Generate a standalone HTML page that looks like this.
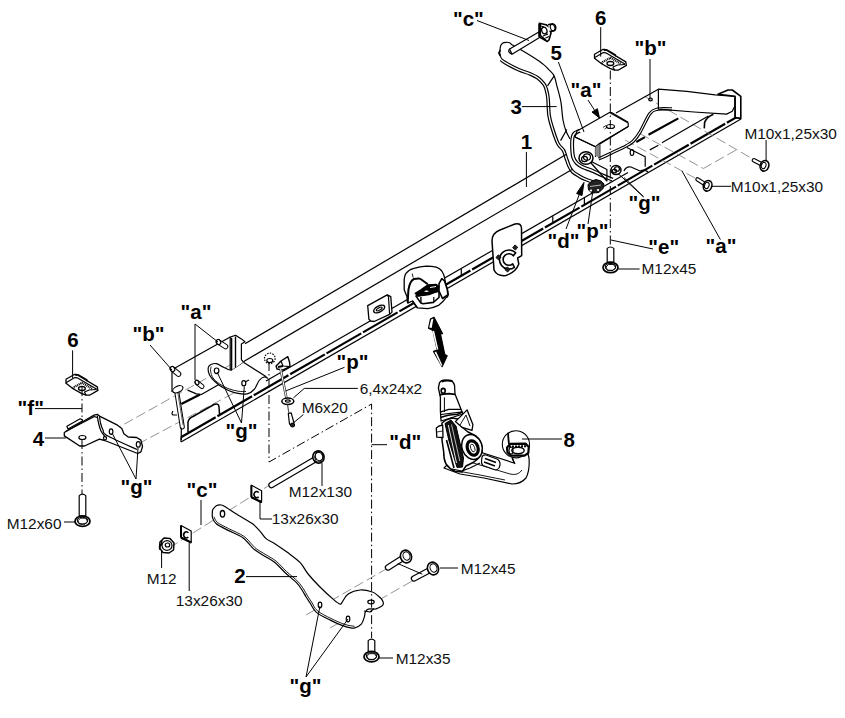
<!DOCTYPE html>
<html><head><meta charset="utf-8"><style>
html,body{margin:0;padding:0;background:#fff;}
svg{display:block;}
.b{font-family:"Liberation Sans",sans-serif;font-weight:bold;font-size:20.5px;fill:#000;}
.r{font-family:"Liberation Sans",sans-serif;font-size:15.4px;fill:#111;}
.l{stroke:#000;stroke-width:1;fill:none;}
.o{stroke:#000;stroke-width:1.2;fill:#fff;stroke-linejoin:round;}
.n{stroke:#000;stroke-width:1.2;fill:none;stroke-linejoin:round;}
.dd{stroke:#000;stroke-width:1;fill:none;stroke-dasharray:9 3 1.5 3;}
.ds{stroke:#777;stroke-width:0.8;fill:none;stroke-dasharray:10 4;}
</style></head><body>
<svg width="845" height="718" viewBox="0 0 845 718">
<line class="n" x1="245.0" y1="343.8" x2="566.0" y2="154.5" />
<line class="n" x1="243.8" y1="361.4" x2="572.0" y2="169.4" />
<line class="n" x1="266.0" y1="380.9" x2="628.0" y2="172.4" />
<line class="n" x1="181.0" y1="437.2" x2="741.0" y2="114.6"  style="stroke-width:2.2;stroke-dasharray:40 2"/>
<line class="n" x1="181.0" y1="442.1" x2="741.0" y2="119.0" />
<line class="n" x1="181.0" y1="437.2" x2="181.0" y2="442.1" />
<line class="n" x1="461.3" y1="268.9" x2="461.3" y2="275.7" />
<line class="n" x1="552.8" y1="216.2" x2="552.8" y2="223.0" />
<line class="n" x1="584.4" y1="198.0" x2="584.4" y2="204.8" />
<polyline class="ds" points="644.0,96.0 754.0,159.7" />
<polyline class="ds" points="736.0,150.0 703.4,168.5" />
<polyline class="ds" points="640.0,133.6 703.4,168.5" />
<polyline class="ds" points="625.0,140.0 697.5,179.4" />
<polygon class="o" points="658.4,89.2 686.8,91.4 715.2,94.9 735.1,96.3 735.1,105.6 732.3,111.3 726.6,114.1 694.0,112.0 658.4,109.1" />
<polygon class="o" points="718.0,94.2 728.0,90.0 732.3,90.0 740.8,96.3 740.8,118.4 735.1,117.6 735.1,96.3"  style="stroke-width:1.6"/>
<line class="n" x1="735.1" y1="98.0" x2="735.1" y2="117.6" />
<path class="n" d="M713.4,114.2 Q706.5,117 704.6,122.6 L704.3,128.4"  style="stroke-width:1.6"/>
<line class="n" x1="616.0" y1="113.0" x2="658.4" y2="89.2" />
<line class="n" x1="636.3" y1="142.0" x2="644.9" y2="137.1"  style="stroke-width:2.2"/>
<line class="n" x1="648.5" y1="134.7" x2="678.3" y2="118.4"  style="stroke-width:2.2"/>
<line class="n" x1="649.8" y1="149.9" x2="658.4" y2="145.3" />
<line class="n" x1="661.9" y1="142.8" x2="708.4" y2="115.9" />
<path class="n" d="M599.0,160.0 C601.2,159.0 607.4,156.2 612.0,154.0 C616.6,151.8 623.1,148.8 626.8,146.8 C630.5,144.8 631.6,144.4 634.0,142.0 C636.4,139.6 638.2,137.2 641.0,132.6 C643.8,127.9 648.1,117.8 650.9,114.1 C653.7,110.4 654.5,110.9 658.0,110.2 C661.5,109.5 669.7,110.0 672.0,110.0"  style="stroke-width:1.1"/>
<path class="n" d="M598.1,158.0 C600.2,157.0 606.4,154.2 611.1,152.0 C615.7,149.8 622.2,146.8 625.7,144.9 C629.3,142.9 630.2,142.7 632.4,140.4 C634.7,138.2 636.3,136.1 639.1,131.5 C641.9,126.8 646.1,116.7 649.1,112.8 C652.2,108.9 653.8,108.9 657.6,108.0 C661.4,107.2 669.6,107.8 672.0,107.8"  style="stroke-width:1.1"/>
<ellipse class="n" cx="650.5" cy="99.5" rx="1.8" ry="1.3" />
<polyline class="n" points="626.8,147.5 645.2,156.8 645.2,166.7" />
<ellipse class="n" cx="632.0" cy="152.5" rx="1.8" ry="3" />
<polygon class="o" points="500.5,46.0 499.8,53.0 501.5,58.5 506.5,62.0 519.0,68.5 530.0,72.5 538.4,76.7 545.0,83.4 547.5,89.2 549.2,97.6 550.3,115.0 553.4,127.3 559.0,142.9 564.5,149.6 567.3,157.4 570.1,165.2 573.4,170.7 580.1,175.2 586.8,178.5 597.0,182.0 570.0,139.0 566.0,131.0 563.0,120.0 560.9,101.8 556.7,85.1 554.2,75.9 549.6,70.4 543.7,64.6 534.0,57.8 521.3,50.0 512.5,45.1 509.6,42.7 506.0,42.3 502.5,43.2 500.5,46.0"  style="stroke:none"/>
<path class="n" d="M500.5,46.0 C500.4,47.2 499.6,50.9 499.8,53.0 C500.0,55.1 500.4,57.0 501.5,58.5 C502.6,60.0 503.6,60.3 506.5,62.0 C509.4,63.7 515.1,66.8 519.0,68.5 C522.9,70.2 526.8,71.1 530.0,72.5 C533.2,73.9 535.9,74.9 538.4,76.7 C540.9,78.5 543.5,81.3 545.0,83.4 C546.5,85.5 546.8,86.8 547.5,89.2 C548.2,91.6 548.7,93.3 549.2,97.6 C549.7,101.9 549.6,110.0 550.3,115.0 C551.0,120.0 551.9,122.6 553.4,127.3 C554.9,131.9 557.1,139.2 559.0,142.9 C560.9,146.6 563.1,147.2 564.5,149.6 C565.9,152.0 566.4,154.8 567.3,157.4 C568.2,160.0 569.1,163.0 570.1,165.2 C571.1,167.4 571.7,169.0 573.4,170.7 C575.1,172.4 577.9,173.9 580.1,175.2 C582.3,176.5 584.0,177.4 586.8,178.5 C589.6,179.6 595.3,181.4 597.0,182.0" />
<path class="n" d="M500.1,60.5 C500.9,61.2 502.3,62.5 505.3,64.2 C508.2,65.9 514.0,69.0 518.0,70.8 C521.9,72.6 525.9,73.5 529.0,74.8 C532.2,76.1 534.6,77.0 536.9,78.7 C539.3,80.4 541.6,83.0 543.0,84.9 C544.3,86.7 544.5,87.7 545.1,89.9 C545.7,92.1 546.3,93.6 546.7,97.9 C547.2,102.1 547.1,110.3 547.8,115.4 C548.5,120.4 549.5,123.3 551.0,128.0 C552.5,132.8 554.9,140.2 556.8,144.0 C558.6,147.8 561.0,148.5 562.3,150.8 C563.7,153.2 564.0,155.7 564.9,158.2 C565.9,160.8 566.7,163.9 567.8,166.2 C568.9,168.6 569.8,170.6 571.6,172.5 C573.5,174.3 576.5,176.0 578.8,177.4 C581.2,178.8 583.0,179.7 585.9,180.8 C588.8,182.0 594.5,183.8 596.2,184.4" />
<path class="n" d="M500.5,46.0 C500.8,45.5 501.6,43.8 502.5,43.2 C503.4,42.6 504.8,42.4 506.0,42.3 C507.2,42.2 508.5,42.2 509.6,42.7 C510.7,43.2 510.6,43.9 512.5,45.1 C514.5,46.3 517.7,47.9 521.3,50.0 C524.9,52.1 530.3,55.4 534.0,57.8 C537.7,60.2 541.1,62.5 543.7,64.6 C546.3,66.7 547.9,68.5 549.6,70.4 C551.4,72.3 553.0,73.5 554.2,75.9 C555.4,78.4 555.6,80.8 556.7,85.1 C557.8,89.4 559.9,96.0 560.9,101.8 C561.9,107.6 562.1,115.1 563.0,120.0 C563.9,124.9 564.8,127.8 566.0,131.0 C567.2,134.2 569.3,137.7 570.0,139.0" />
<line class="n" x1="554.2" y1="75.9" x2="547.5" y2="85.9" />
<line class="n" x1="566.8" y1="129.5" x2="560.6" y2="140.6" />
<path class="n" d="M500.3,50 l-1.5,3 l1.5,3"  style="stroke-width:1.6"/>
<polygon class="o" points="509.6,49.0 538.9,31.9 540.8,36.8 512.0,54.3" />
<path class="n" d="M509.6,49 Q507,52 512,54.3" />
<polygon class="o" points="539.3,23.3 546.0,24.8 549.5,27.0 551.0,33.0 549.0,40.0 547.3,41.5 539.2,36.8"  style="stroke-width:1.6"/>
<line class="n" x1="539.8" y1="24.0" x2="539.8" y2="36.5"  style="stroke-width:2.6"/>
<path class="o" d="M548,24.8 L552.5,23.8 Q556,24.5 555.8,28.5 Q555,31.5 551.5,31.2 L549.5,31.5"  style="stroke-width:1.4"/>
<ellipse class="n" cx="552.6" cy="27.6" rx="2.2" ry="3.2" transform="rotate(-20 552.6 27.6)"  style="stroke-width:1.1"/>
<ellipse class="n" cx="544.3" cy="30.5" rx="2.6" ry="3.4" transform="rotate(-20 544.3 30.5)"  style="stroke-width:1.3"/>
<path class="n" d="M541,26 L544,27 M540.5,35.5 L546,40 M543,36 L548,34 M545.5,38 L549,36.5"  style="stroke-width:1.3"/>
<polygon class="o" points="577.0,131.0 609.5,112.5 628.2,123.0 628.2,126.5 599.8,143.3 595.5,146.8 575.0,137.0" />
<polyline class="n" points="609.5,112.5 611.5,112.5 628.2,122.3" />
<polyline class="n" points="628.2,126.5 599.8,144.0 599.8,158.5" />
<polyline class="n" points="575.0,137.0 595.5,146.8 595.5,157.0" />
<polygon class="n" points="595.2,147.3 599.6,144.3 599.6,157.5 595.2,156.0"  style="fill:#888;stroke:none"/>
<polygon class="o" points="588.4,160.0 606.9,169.5 606.9,181.0" />
<path class="n" d="M579.0,129.5 C578.1,130.0 574.7,131.2 573.4,132.5 C572.1,133.8 571.7,135.0 571.2,137.3 C570.8,139.6 570.6,142.8 570.7,146.2 C570.8,149.5 571.0,154.4 571.8,157.4 C572.6,160.4 573.9,162.2 575.7,164.0 C577.5,165.8 579.8,167.2 582.4,168.5 C585.0,169.8 587.9,170.5 591.3,171.9 C594.7,173.3 599.1,175.5 602.6,177.0 C606.1,178.5 610.4,180.3 612.0,181.0" />
<path class="n" d="M580.3,132.0 C579.5,132.4 576.4,133.5 575.4,134.5 C574.3,135.5 574.3,135.9 573.9,137.8 C573.6,139.8 573.4,143.0 573.5,146.1 C573.6,149.3 573.8,154.0 574.5,156.6 C575.2,159.3 576.2,160.5 577.7,162.1 C579.3,163.6 581.2,164.8 583.7,166.0 C586.1,167.2 589.0,167.9 592.4,169.3 C595.7,170.7 600.3,172.9 603.7,174.4 C607.2,176.0 611.5,177.8 613.1,178.4" />
<ellipse class="n" cx="610.5" cy="126.5" rx="4" ry="2" />
<path class="n" d="M603,127.5 l3,-2 M604.5,129 l3,-2"  style="stroke-width:0.8"/>
<ellipse class="o" cx="586.0" cy="158.0" rx="7" ry="6.3"  style="stroke-width:1.5"/>
<ellipse class="n" cx="587.0" cy="157.0" rx="3.5" ry="3.15" />
<ellipse class="n" cx="584.5" cy="159.0" rx="2.94" ry="2.66" />
<ellipse class="o" cx="616.0" cy="170.0" rx="5" ry="4.5"  style="stroke-width:1.5"/>
<ellipse class="n" cx="617.0" cy="169.0" rx="2.5" ry="2.25" />
<ellipse class="n" cx="614.5" cy="171.0" rx="2.1" ry="1.9" />
<path class="n" d="M624,171 q2,-5 7,-4 l9,4 q5,-2 8,1" />
<polygon class="o" points="594.5,54.2 602.8,49.5 605.1,49.5 625.8,61.9 626.4,65.4 618.1,70.2 614.6,70.2 609.9,68.4 601.6,63.7 594.5,58.3"  style="stroke-width:1.3"/>
<polyline class="n" points="595.3,57.3 603.3,52.6 605.7,52.8 625.3,64.3" />
<polyline class="n" points="594.5,58.3 595.3,57.3" />
<polyline class="n" points="601.6,63.7 602.5,62.1 610.5,57.8 620.5,63.7"  style="stroke-width:2.2;stroke-dasharray:1 0.8"/>
<polyline class="n" points="604.0,50.7 606.5,49.5 615.5,54.7 615.5,56.5" />
<ellipse class="n" cx="610.4" cy="63.5" rx="3.4" ry="2"  style="stroke-width:1.3"/>
<polyline class="n" points="614.6,70.2 613.0,67.0 617.5,65.0 625.0,64.5" />
<g>
<path class="o" d="M607.2,263.3 L607.2,248.4 Q610.5,245.6 613.8,248.4 L613.8,263.3" />
<ellipse class="o" cx="610.5" cy="267.5" rx="7.5" ry="5.2"  style="stroke-width:1.7"/>
<ellipse class="n" cx="610.5" cy="266.9" rx="5.2" ry="3.4"  style="stroke-width:1.1"/>
<path class="n" d="M606.0,267.0 L608.5,264.5 L613.5,264.5 L615.5,267.5 L613.0,270.5 L607.5,270.5Z"  style="stroke-width:0.9"/>
<line class="n" x1="607.2" y1="262.3" x2="613.8" y2="262.3"  style="stroke-width:1.6"/>
</g>
<line x1="753.9" y1="160.2" x2="764.5" y2="165.8" style="stroke:#000;stroke-width:4.4;stroke-linecap:round"/>
<line x1="753.9" y1="160.2" x2="764.5" y2="165.8" style="stroke:#fff;stroke-width:2.2;stroke-linecap:round"/>
<ellipse class="o" cx="764.5" cy="165.8" rx="4.2" ry="5.4" transform="rotate(20 764.5 165.8)"  style="stroke-width:1.6"/>
<ellipse class="n" cx="763.7" cy="165.5" rx="2.2" ry="3.2" transform="rotate(20 763.7 165.5)"  style="stroke-width:1"/>
<line x1="697.5" y1="179.4" x2="707.6" y2="185.8" style="stroke:#000;stroke-width:4.4;stroke-linecap:round"/>
<line x1="697.5" y1="179.4" x2="707.6" y2="185.8" style="stroke:#fff;stroke-width:2.2;stroke-linecap:round"/>
<ellipse class="o" cx="707.6" cy="185.8" rx="4.2" ry="5.4" transform="rotate(20 707.6 185.8)"  style="stroke-width:1.6"/>
<ellipse class="n" cx="706.8" cy="185.5" rx="2.2" ry="3.2" transform="rotate(20 706.8000000000001 185.5)"  style="stroke-width:1"/>
<polygon class="l" points="588.0,184.5 592.0,181.0 596.0,179.5 601.0,181.0 604.0,184.0 603.0,188.5 599.0,192.5 592.0,193.0 588.5,190.0"  style="fill:#222;stroke:#000;stroke-width:1"/>
<ellipse class="l" cx="591.0" cy="190.5" rx="1.3" ry="1.1"  style="fill:#fff;stroke:none"/>
<ellipse class="l" cx="598.0" cy="190.0" rx="1.2" ry="1"  style="fill:#fff;stroke:none"/>
<path class="n" d="M590,186.5 L601,185"  style="stroke:#ddd;stroke-width:0.8"/>
<path class="o" d="M492,241 Q492,233 500,230 L515,224 Q521,222.5 521.5,228 L521.7,255.6 L517.6,258 L518.8,264 Q516,272 506,275.5 Q497,276.5 494,270 Z"  style="stroke-width:1.5"/>
<path class="o" d="M515.7,252.8 A9.5,9.5 0 1 0 514.4,267.3 L512.7,263.9 A5.8,5.8 0 1 1 513.4,255.8 Z"  style="stroke-width:1.6"/>
<rect x="513.4" y="245.7" width="3.6" height="3.6" transform="rotate(40 515.2 247.5)" style="fill:#222;stroke:#000;stroke-width:0.8"/>
<rect x="496.7" y="255.6" width="3.6" height="3.6" transform="rotate(40 498.5 257.4)" style="fill:#222;stroke:#000;stroke-width:0.8"/>
<rect x="505.7" y="267.7" width="3.6" height="3.6" transform="rotate(40 507.5 269.5)" style="fill:#222;stroke:#000;stroke-width:0.8"/>
<polyline class="ds" points="112.0,431.0 232.0,364.0" />
<polyline class="ds" points="138.0,444.0 262.0,378.0" />
<line class="n" x1="175.0" y1="368.0" x2="230.2" y2="337.1" />
<line class="n" x1="172.0" y1="370.7" x2="172.0" y2="392.0" />
<polygon class="o" points="230.2,337.1 235.5,335.3 236.7,335.9 241.4,338.9 245.0,341.8 241.4,344.0 241.4,359.6 243.8,362.5 236.0,368.0 232.0,370.2 230.2,369.0" />
<line class="n" x1="231.6" y1="338.0" x2="231.6" y2="369.5"  style="stroke-width:1.4"/>
<line class="n" x1="235.5" y1="336.5" x2="235.5" y2="367.9"  style="stroke-width:1.4"/>
<path class="n" d="M188,432 L188,422 Q189,418 193,416.5 L214,404.5 Q219,403 219,407 L219.5,414"  style="stroke-width:1.5"/>
<line class="n" x1="181.3" y1="403.9" x2="200.0" y2="394.5"  style="stroke-width:2.2"/>
<polyline class="n" points="187.6,390.1 196.4,393.9 201.4,394.5 220.2,383.8" />
<polygon class="o" points="243.8,362.5 266.3,376.7 268.0,378.5 264.0,377.0 259.2,380.5 254.4,389.2 247.3,393.9 234.3,392.7 223.7,388.0 215.4,382.0 209.5,375.0 208.3,367.5 211.5,364.3 216.6,363.7 223.7,367.3 229.0,369.8 232.0,370.2"  style="stroke:none"/>
<path class="n" d="M268.0,378.5 C267.3,378.2 265.5,376.7 264.0,377.0 C262.5,377.3 260.8,378.5 259.2,380.5 C257.6,382.5 256.4,387.0 254.4,389.2 C252.4,391.4 250.7,393.3 247.3,393.9 C244.0,394.5 238.2,393.7 234.3,392.7 C230.4,391.7 226.8,389.8 223.7,388.0 C220.5,386.2 217.8,384.2 215.4,382.0 C213.0,379.8 210.7,377.4 209.5,375.0 C208.3,372.6 208.0,369.3 208.3,367.5 C208.6,365.7 210.1,364.9 211.5,364.3 C212.9,363.7 214.6,363.2 216.6,363.7 C218.6,364.2 221.6,366.3 223.7,367.3 C225.8,368.3 227.6,369.3 229.0,369.8 C230.4,370.3 231.5,370.1 232.0,370.2" />
<line class="n" x1="243.8" y1="362.5" x2="266.3" y2="376.7" />
<path class="n" d="M211.2,366.5 C211.1,367.2 210.3,369.1 210.6,371.0 C210.9,372.9 211.5,375.9 213.0,378.0 C214.5,380.1 217.0,382.1 219.5,383.8 C222.0,385.6 224.9,387.3 228.0,388.5 C231.1,389.7 235.0,390.7 238.0,391.2 C241.0,391.7 244.7,391.4 246.0,391.5"  style="stroke-width:0.9"/>
<ellipse class="n" cx="216.6" cy="370.8" rx="2.3" ry="2.8" />
<ellipse class="n" cx="243.8" cy="383.3" rx="2" ry="2.6" />
<path class="n" d="M245,382 l4,-2" />
<line x1="218.5" y1="342" x2="225.5" y2="346.5" style="stroke:#000;stroke-width:5.6;stroke-linecap:round"/>
<line x1="218.5" y1="342" x2="225.5" y2="346.5" style="stroke:#fff;stroke-width:3.6;stroke-linecap:round"/>
<ellipse class="o" cx="218.5" cy="342.0" rx="2.1" ry="2.6" transform="rotate(-30 218.5 342)" />
<line x1="172.5" y1="369" x2="178.5" y2="374" style="stroke:#000;stroke-width:5.6;stroke-linecap:round"/>
<line x1="172.5" y1="369" x2="178.5" y2="374" style="stroke:#fff;stroke-width:3.6;stroke-linecap:round"/>
<ellipse class="o" cx="172.5" cy="369.0" rx="2.1" ry="2.6" transform="rotate(-30 172.5 369)" />
<line x1="197" y1="382.5" x2="202" y2="386.5" style="stroke:#000;stroke-width:5;stroke-linecap:round"/>
<line x1="197" y1="382.5" x2="202" y2="386.5" style="stroke:#fff;stroke-width:3;stroke-linecap:round"/>
<ellipse class="o" cx="197.0" cy="382.5" rx="1.8" ry="2.3" transform="rotate(-30 197 382.5)" />
<line x1="176.5" y1="390" x2="182.3" y2="427" style="stroke:#000;stroke-width:5;stroke-linecap:round"/>
<line x1="176.5" y1="390" x2="182.3" y2="427" style="stroke:#fff;stroke-width:3;stroke-linecap:round"/>
<line class="n" x1="177.5" y1="391.0" x2="183.0" y2="425.0"  style="stroke-width:0.6"/>
<ellipse class="o" cx="177.8" cy="389.3" rx="5.5" ry="3" transform="rotate(-25 177.8 389.3)" />
<path class="n" d="M173,411 q-2,3 0,4 l4,0" />
<line class="n" x1="181.3" y1="427.7" x2="181.3" y2="440.0" />
<ellipse class="n" cx="269.8" cy="358.4" rx="5.3" ry="5.3"  style="stroke-dasharray:1.5 1.2"/>
<ellipse class="n" cx="269.8" cy="360.5" rx="3" ry="2" />
<polygon class="o" points="276.1,366.0 281.0,361.0 287.8,356.7 289.5,362.0 290.0,366.7 283.0,370.0 277.0,369.0"  style="stroke-width:1.4"/>
<polyline class="n" points="281.0,361.0 283.0,366.0 290.0,366.7" />
<path class="n" d="M278,367 l5,-1"  style="stroke-width:2"/>
<line x1="280.6" y1="369" x2="286.4" y2="398" style="stroke:#444;stroke-width:2.6"/>
<line x1="280.6" y1="369" x2="286.4" y2="398" style="stroke:#fff;stroke-width:1"/>
<ellipse class="o" cx="287.8" cy="401.3" rx="6" ry="3.2"  style="stroke-width:1.5"/>
<ellipse class="n" cx="287.8" cy="401.0" rx="2.4" ry="1.1" />
<line class="n" x1="287.5" y1="404.6" x2="289.0" y2="413.5"  style="stroke:#555"/>
<polygon class="o" points="288.3,413.5 291.2,412.8 294.0,423.0 291.5,425.5 289.5,424.0"  style="stroke-width:1.2"/>
<ellipse class="l" cx="292.5" cy="425.0" rx="2.2" ry="2.0"  style="fill:#222"/>
<polygon class="o" points="367.7,305.6 387.2,294.9 390.8,296.7 392.0,312.1 389.6,314.4 374.2,321.5 370.7,321.0 368.9,319.2"  style="stroke-width:1.3"/>
<polyline class="n" points="387.2,294.9 388.5,297.0 389.6,314.4" />
<ellipse class="n" cx="379.2" cy="309.0" rx="6" ry="3" transform="rotate(-28 379.2 309)"  style="stroke-width:1.5"/>
<ellipse class="n" cx="379.2" cy="309.0" rx="3.2" ry="1.2" transform="rotate(-28 379.2 309)" />
<path class="o" d="M404.2,289.8 L404.2,279.4 Q405,273.5 407,272.4 Q409,269.5 413.9,268.3 Q420,266.5 426.4,266.2 Q432,266.2 436.2,267.2 Q440,268.5 441.8,271 Q443.8,274 444.5,277.3 L445.5,283 L447.5,289.8 L448.2,294.5 Q447.5,298 446.6,296.8 Q443,302 439,305.1 Q433,308 427.8,308.6 L417.4,307.9 L412.5,301 L407.7,303.1 L407,296.8 Z"  style="stroke-width:1.3"/>
<path class="n" d="M407.7,302.4 L408.4,289.8 Q409.2,285 410.4,282.9 Q411.8,280 413.9,279 L418.8,278.4 Q421,279 423,280.8 L427.8,284.3"  style="stroke-width:2"/>
<polyline class="n" points="412.2,273.6 413.2,277.5"  style="stroke-width:0.9"/>
<polygon class="o" points="439.0,283.6 441.8,278.7 444.5,280.8 447.3,289.8 448.0,294.7 442.5,298.5 439.0,291.0"  style="stroke-width:1.6"/>
<polygon class="o" points="416.0,296.1 420.9,303.1 423.0,303.8 433.4,302.4 439.0,297.5 439.0,291.2"  style="stroke-width:1.6"/>
<line class="n" x1="433.8" y1="297.0" x2="433.8" y2="302.0" />
<line class="n" x1="420.9" y1="297.0" x2="420.9" y2="303.1"  style="stroke-width:1.4"/>
<polygon class="l" points="415.3,293.3 420.9,289.8 427.8,285.0 436.2,284.3 439.0,286.4 437.6,291.2 429.2,294.7 418.1,296.1"  style="fill:#000;stroke:#000;stroke-width:1.3"/>
<ellipse class="l" cx="426.5" cy="291.2" rx="2.2" ry="0.8"  style="fill:#fff;stroke:none"/>
<polyline class="n" points="430.0,287.5 436.0,286.5"  style="stroke:#fff;stroke-width:1"/>
<path class="n" d="M412.5,301 L417.4,307.9"  style="stroke-width:1.4"/>
<polygon class="o" points="64.3,432.5 94.1,415.1 97.3,414.3 100.5,416.7 117.5,425.2 121.8,428.4 123.9,433.8 128.2,437.0 136.7,437.5 140.9,440.1 142.5,446.5 140.9,451.9 137.7,453.5 104.7,440.5 99.4,439.1 84.5,446.0 79.7,446.0 64.3,435.9"  style="stroke-width:1.3"/>
<polygon class="o" points="66.9,426.3 80.2,418.8 82.4,419.9 82.4,421.0 68.0,429.0" />
<polyline class="n" points="65.5,431.5 94.5,416.5 97.0,417.5" />
<path class="n" d="M97.3,415.5 C97.5,416.8 97.9,420.4 98.5,423.0 C99.1,425.6 99.8,428.6 101.0,431.0 C102.2,433.4 104.8,436.4 105.5,437.5" />
<path class="n" d="M99.5,415.8 C99.7,417.0 99.9,420.6 100.5,423.0 C101.1,425.4 101.9,427.9 103.0,430.0 C104.1,432.1 101.3,432.2 107.0,435.5 C112.7,438.8 132.0,447.2 137.0,449.5" />
<ellipse class="n" cx="82.4" cy="437.5" rx="3.5" ry="2"  style="stroke-width:1.2"/>
<ellipse class="n" cx="111.1" cy="431.6" rx="1.8" ry="2.8"  style="stroke-width:1.2"/>
<ellipse class="n" cx="138.3" cy="444.4" rx="2" ry="2.8"  style="stroke-width:1.2"/>
<ellipse class="n" cx="105.0" cy="438.0" rx="1.5" ry="2" />
<polygon class="o" points="66.0,379.2 74.3,374.5 76.6,374.5 97.3,386.9 97.9,390.4 89.6,395.2 86.1,395.2 81.4,393.4 73.1,388.7 66.0,383.3"  style="stroke-width:1.3"/>
<polyline class="n" points="66.8,382.3 74.8,377.6 77.2,377.8 96.8,389.3" />
<polyline class="n" points="66.0,383.3 66.8,382.3" />
<polyline class="n" points="73.1,388.7 74.0,387.1 82.0,382.8 92.0,388.7"  style="stroke-width:2.2;stroke-dasharray:1 0.8"/>
<polyline class="n" points="75.5,375.7 78.0,374.5 87.0,379.7 87.0,381.5" />
<ellipse class="n" cx="81.9" cy="388.5" rx="3.4" ry="2"  style="stroke-width:1.3"/>
<polyline class="n" points="86.1,395.2 84.5,392.0 89.0,390.0 96.5,389.5" />
<g>
<path class="o" d="M79.2,517.0 L79.2,495.6 Q82.5,492.8 85.8,495.6 L85.8,517.0" />
<ellipse class="o" cx="82.5" cy="521.2" rx="7.5" ry="5.2"  style="stroke-width:1.7"/>
<ellipse class="n" cx="82.5" cy="520.6" rx="5.2" ry="3.4"  style="stroke-width:1.1"/>
<path class="n" d="M78.0,520.7 L80.5,518.2 L85.5,518.2 L87.5,521.2 L85.0,524.2 L79.5,524.2Z"  style="stroke-width:0.9"/>
<line class="n" x1="79.2" y1="516.0" x2="85.8" y2="516.0"  style="stroke-width:1.6"/>
</g>
<polygon class="l" points="434.0,317.2 442.6,333.7 440.4,333.6 444.8,354.5 447.2,355.7 442.2,366.6 433.5,351.4 437.2,350.0 433.0,330.5 428.5,328.3 430.5,319.0"  style="fill:#000;stroke-width:1.2;stroke-linejoin:round"/>
<polygon class="l" points="429.2,327.6 431.1,319.5 433.4,318.6 431.7,327.9"  style="fill:#fff;stroke:none"/>
<polygon class="l" points="432.6,331.2 434.1,330.8 438.3,349.3 436.9,349.8"  style="fill:#fff;stroke:none"/>
<polygon class="l" points="434.6,352.2 436.1,351.6 442.4,365.2 441.2,365.8"  style="fill:#fff;stroke:none"/>
<path class="o" d="M444,468 L460,474 L484,478 L512,484 Q521,484 526,478 Q530,470 529,458 L528,454 L512,456 L514,463 L480,452 L466,446 Z"  style="stroke-width:1.2"/>
<path class="n" d="M452,470 L480,475 L505,480"  style="stroke-width:0.9"/>
<path class="n" d="M470,462 Q490,468 510,474 Q518,476 522,470"  style="stroke-width:0.9"/>
<path class="n" d="M512,458 L515,464" />
<path class="o" d="M482,457 Q483,454.5 486,455 L497,459 Q500.5,461 500,465 L499,468 Q497,470.5 494,469.5 L483,465.5 Q481,464 481.5,461 Z"  style="stroke-width:1.2"/>
<path class="n" d="M485,458.5 L496,462.5 M484,462 L495,466"  style="stroke-width:1.4"/>
<ellipse class="o" cx="515.9" cy="444.3" rx="13.6" ry="13.6"  style="stroke-width:1.1"/>
<path class="n" d="M508,432.7 Q508.3,438 509,444.4"  style="stroke-width:1.8"/>
<polygon class="o" points="507.0,447.5 510.5,443.8 525.5,443.6 528.8,447.0 528.3,453.0 524.5,455.6 511.0,455.6 507.5,452.5"  style="stroke-width:2.2"/>
<path class="n" d="M509,446.5 L527,446.3"  style="stroke-width:2;stroke-dasharray:2 1"/>
<ellipse class="n" cx="518.0" cy="450.5" rx="6.2" ry="3.2"  style="stroke-width:1.4"/>
<ellipse class="n" cx="511.0" cy="450.5" rx="2" ry="3.5"  style="stroke-width:1.2"/>
<path class="o" d="M439.4,383 Q440.5,380.4 444,380.2 L450,380.3 Q453.4,381.3 454.5,385 L455,394 L461.5,410.5 L463,414 L441.1,421 L440.4,411.2 L440.4,397.4 L438.4,388 Z"  style="stroke-width:1.3"/>
<path class="n" d="M441.5,381.5 Q446,379.6 452.5,381"  style="stroke-width:2"/>
<path class="n" d="M439.6,394.8 L443.4,394.2 L449,393.6 L455,394.3"  style="stroke-width:1.8"/>
<path class="n" d="M441,411.8 L448.7,409.4 L461,409.4"  style="stroke-width:1.4"/>
<path class="n" d="M440.8,414.5 L462.5,411.8"  style="stroke-width:1.2"/>
<line class="n" x1="444.4" y1="397.4" x2="444.4" y2="412.0"  style="stroke-width:1"/>
<ellipse class="n" cx="443.2" cy="390.8" rx="2" ry="2.4"  style="stroke-width:1.6"/>
<path class="o" d="M442,423 L446,420 L452,418 L458,419 L462,427 L468,432 L476,436 Q481,440 482,447 L482,452 Q480,458 474,462 L466,466 L462,472 L455,471.3 Q449.5,469 446,464 Q443.5,459 443.7,451.8 L442,440 Z"  style="stroke-width:1.5"/>
<polygon class="o" points="436.3,428.0 439.0,426.0 442.7,425.2 443.0,437.5 436.8,437.2"  style="stroke-width:1.3"/>
<polyline class="n" points="437.0,432.0 442.8,431.0"  style="stroke-width:0.8"/>
<polygon class="o" points="455.4,421.6 467.1,409.9 472.9,424.5 472.0,430.4 462.2,427.4"  style="stroke-width:1.3"/>
<polyline class="n" points="460.0,425.0 466.0,415.0 470.0,426.0"  style="stroke-width:0.9"/>
<path class="n" d="M440.5,417.5 Q450,414 457,414.5 L462.5,412"  style="stroke-width:1.6"/>
<polygon class="l" points="445.0,423.5 451.0,420.0 456.0,426.0 463.5,458.0 462.5,467.0 457.0,467.5 449.0,441.0"  style="fill:#111;stroke:#000;stroke-width:1"/>
<line class="n" x1="448.3" y1="425.0" x2="456.5" y2="463.0"  style="stroke:#fff;stroke-width:0.9"/>
<line class="n" x1="451.5" y1="424.5" x2="459.8" y2="461.0"  style="stroke:#fff;stroke-width:0.7"/>
<line class="n" x1="446.5" y1="440.0" x2="454.0" y2="468.0"  style="stroke-width:1.6"/>
<ellipse class="o" cx="472.0" cy="447.0" rx="10" ry="12.8" transform="rotate(-20 472 447)"  style="stroke-width:1.5"/>
<ellipse class="n" cx="472.7" cy="448.0" rx="5.3" ry="7.4" transform="rotate(-20 472.7 448)"  style="stroke-width:3.2"/>
<ellipse class="n" cx="472.7" cy="448.0" rx="2" ry="4" transform="rotate(-20 472.7 448)"  style="stroke-width:0.8"/>
<path class="n" d="M452,469 L462,471 L470,468 L480,463"  style="stroke-width:1.1"/>
<polyline class="ds" points="169.0,548.0 268.0,486.0" />
<polyline class="ds" points="306.0,615.0 388.0,568.0" />
<polyline class="ds" points="330.0,628.0 414.0,580.0" />
<polygon class="o" points="212.5,510.0 216.3,505.7 221.3,505.0 226.3,507.5 240.1,516.3 252.6,523.8 260.1,531.3 266.4,538.9 275.2,543.9 287.7,552.6 300.2,562.7 308.1,574.0 320.0,587.0 334.2,600.1 340.2,604.1 342.2,602.1 348.2,594.0 360.3,590.0 372.3,592.0 378.3,596.0 382.3,600.1 383.3,604.1 380.3,607.1 375.3,609.1 375.3,609.1 368.3,609.1 365.3,612.1 364.3,617.1 361.3,624.1 354.2,628.1 344.2,626.1 330.2,620.1 316.2,612.1 310.1,603.0 306.1,597.0 302.0,590.0 296.5,582.7 285.2,572.7 275.2,562.7 265.2,556.4 255.1,550.1 250.1,545.1 242.6,537.6 227.6,530.1 216.3,523.8 212.5,517.6 212.5,510.0"  style="stroke:none"/>
<path class="n" d="M212.5,510.0 C213.1,509.3 214.8,506.5 216.3,505.7 C217.8,504.9 219.6,504.7 221.3,505.0 C223.0,505.3 223.2,505.6 226.3,507.5 C229.4,509.4 235.7,513.6 240.1,516.3 C244.5,519.0 249.3,521.3 252.6,523.8 C255.9,526.3 257.8,528.8 260.1,531.3 C262.4,533.8 263.9,536.8 266.4,538.9 C268.9,541.0 271.6,541.6 275.2,543.9 C278.8,546.2 283.5,549.5 287.7,552.6 C291.9,555.7 296.8,559.1 300.2,562.7 C303.6,566.3 304.8,570.0 308.1,574.0 C311.4,578.0 315.6,582.6 320.0,587.0 C324.4,591.4 330.8,597.2 334.2,600.1 C337.6,603.0 338.9,603.8 340.2,604.1 C341.5,604.4 340.9,603.8 342.2,602.1 C343.5,600.4 345.2,596.0 348.2,594.0 C351.2,592.0 356.3,590.3 360.3,590.0 C364.3,589.7 369.3,591.0 372.3,592.0 C375.3,593.0 376.6,594.6 378.3,596.0 C380.0,597.4 381.5,598.8 382.3,600.1 C383.1,601.5 383.6,602.9 383.3,604.1 C383.0,605.3 381.6,606.3 380.3,607.1 C379.0,607.9 376.1,608.8 375.3,609.1" />
<path class="n" d="M212.5,510.0 C212.5,511.3 211.9,515.3 212.5,517.6 C213.1,519.9 213.8,521.7 216.3,523.8 C218.8,525.9 223.2,527.8 227.6,530.1 C232.0,532.4 238.8,535.1 242.6,537.6 C246.3,540.1 248.0,543.0 250.1,545.1 C252.2,547.2 252.6,548.2 255.1,550.1 C257.6,552.0 261.8,554.3 265.2,556.4 C268.6,558.5 271.9,560.0 275.2,562.7 C278.5,565.4 281.6,569.4 285.2,572.7 C288.8,576.0 293.7,579.8 296.5,582.7 C299.3,585.6 300.4,587.6 302.0,590.0 C303.6,592.4 304.8,594.8 306.1,597.0 C307.5,599.2 308.4,600.5 310.1,603.0 C311.8,605.5 312.9,609.2 316.2,612.1 C319.5,615.0 325.5,617.8 330.2,620.1 C334.9,622.4 340.2,624.8 344.2,626.1 C348.2,627.4 351.3,628.4 354.2,628.1 C357.1,627.8 359.6,625.9 361.3,624.1 C363.0,622.3 363.6,619.1 364.3,617.1 C365.0,615.1 364.6,613.4 365.3,612.1 C366.0,610.8 366.6,609.6 368.3,609.1 C370.0,608.6 374.1,609.1 375.3,609.1" />
<path class="n" d="M214.0,516.7 C214.6,517.6 215.0,520.4 217.4,522.4 C219.8,524.4 224.1,526.2 228.4,528.5 C232.8,530.8 239.8,533.5 243.6,536.1 C247.4,538.7 249.3,541.7 251.4,543.8 C253.5,545.9 253.7,546.8 256.2,548.7 C258.6,550.5 262.8,552.8 266.2,554.9 C269.5,557.0 273.0,558.6 276.3,561.3 C279.7,564.1 282.9,568.0 286.4,571.4 C290.0,574.7 294.9,578.5 297.8,581.4 C300.6,584.4 301.9,586.6 303.5,589.0 C305.1,591.4 306.3,593.9 307.6,596.0 C309.0,598.2 310.0,599.6 311.6,602.0 C313.2,604.4 314.1,608.0 317.4,610.7 C320.6,613.5 326.4,616.2 331.0,618.5 C335.6,620.8 340.8,623.1 344.8,624.4 C348.7,625.7 352.9,626.0 354.6,626.3"  style="stroke-width:0.9"/>
<ellipse class="n" cx="222.5" cy="513.8" rx="2.2" ry="3.3"  style="stroke-width:1.3"/>
<ellipse class="n" cx="320.0" cy="605.0" rx="1.8" ry="2.8"  style="stroke-width:1.2"/>
<ellipse class="n" cx="348.0" cy="619.0" rx="1.8" ry="2.8"  style="stroke-width:1.2"/>
<ellipse class="n" cx="371.0" cy="602.0" rx="3.2" ry="1.8"  style="stroke-width:1.2"/>
<polyline class="n" points="364.0,611.0 370.0,612.0 374.0,608.5" />
<polygon class="o" points="251.4,485.2 261.6,490.7 261.6,502.3 251.4,497.2"  style="stroke-width:1.2"/>
<line class="n" x1="251.4" y1="485.2" x2="251.4" y2="497.2"  style="stroke-width:2"/>
<line class="n" x1="251.4" y1="497.2" x2="261.6" y2="502.3"  style="stroke-width:2.2"/>
<path class="n" d="M258.7,492.6 A2.6,3.1 0 1 0 258.6,496.7"  style="stroke-width:1.6"/>
<polygon class="o" points="181.0,525.5 191.2,531.0 191.2,542.6 181.0,537.5"  style="stroke-width:1.2"/>
<line class="n" x1="181.0" y1="525.5" x2="181.0" y2="537.5"  style="stroke-width:2"/>
<line class="n" x1="181.0" y1="537.5" x2="191.2" y2="542.6"  style="stroke-width:2.2"/>
<path class="n" d="M188.3,532.9 A2.6,3.1 0 1 0 188.2,537.0"  style="stroke-width:1.6"/>
<polygon class="o" points="160.0,542.0 164.0,538.0 170.0,538.5 174.0,543.0 173.5,550.0 169.0,553.0 163.0,552.5 159.5,548.0"  style="stroke-width:1.5"/>
<ellipse class="n" cx="167.0" cy="545.5" rx="5" ry="4.8"  style="stroke-width:1.2"/>
<ellipse class="n" cx="167.5" cy="545.0" rx="2.2" ry="2" />
<path class="n" d="M160,544 L160,550 M162,540 L161,546"  style="stroke-width:1.4"/>
<line x1="271.5" y1="485" x2="315" y2="459.5" style="stroke:#000;stroke-width:6.6;stroke-linecap:round"/>
<line x1="271.5" y1="485" x2="315" y2="459.5" style="stroke:#fff;stroke-width:4.2;stroke-linecap:round"/>
<ellipse class="o" cx="318.5" cy="457.0" rx="5.6" ry="6.2" transform="rotate(-20 318.5 457)"  style="stroke-width:1.6"/>
<ellipse class="n" cx="319.0" cy="456.5" rx="3.6" ry="4.2" transform="rotate(-20 319 456.5)"  style="stroke-width:1"/>
<path class="n" d="M316,452.5 L321,451.5 L323.5,456 L321.5,461.5 L316.5,462 L314.5,457 Z"  style="stroke-width:0.9"/>
<line x1="388" y1="567.5" x2="403" y2="558.0" style="stroke:#000;stroke-width:6.4;stroke-linecap:round"/>
<line x1="388" y1="567.5" x2="403" y2="558.0" style="stroke:#fff;stroke-width:4;stroke-linecap:round"/>
<ellipse class="o" cx="406.0" cy="556.5" rx="5.5" ry="6.5" transform="rotate(-20 406 556.5)"  style="stroke-width:1.6"/>
<ellipse class="n" cx="406.5" cy="556.0" rx="3.4" ry="4.2" transform="rotate(-20 406.5 556.0)"  style="stroke-width:1"/>
<line x1="414" y1="578.5" x2="430" y2="570.0" style="stroke:#000;stroke-width:6.4;stroke-linecap:round"/>
<line x1="414" y1="578.5" x2="430" y2="570.0" style="stroke:#fff;stroke-width:4;stroke-linecap:round"/>
<ellipse class="o" cx="433.0" cy="568.5" rx="5.5" ry="6.5" transform="rotate(-20 433 568.5)"  style="stroke-width:1.6"/>
<ellipse class="n" cx="433.5" cy="568.0" rx="3.4" ry="4.2" transform="rotate(-20 433.5 568.0)"  style="stroke-width:1"/>
<line class="l" x1="397.7" y1="563.5" x2="422.3" y2="574.2" />
<g>
<path class="o" d="M368.2,652.5 L368.2,640.6 Q371.5,637.8 374.8,640.6 L374.8,652.5" />
<ellipse class="o" cx="371.5" cy="656.7" rx="7.5" ry="5.2"  style="stroke-width:1.7"/>
<ellipse class="n" cx="371.5" cy="656.1" rx="5.2" ry="3.4"  style="stroke-width:1.1"/>
<path class="n" d="M367.0,656.2 L369.5,653.7 L374.5,653.7 L376.5,656.7 L374.0,659.7 L368.5,659.7Z"  style="stroke-width:0.9"/>
<line class="n" x1="368.2" y1="651.5" x2="374.8" y2="651.5"  style="stroke-width:1.6"/>
</g>
<polyline class="l" points="477.0,20.5 529.0,40.5" />
<polyline class="l" points="600.7,27.2 600.7,56.6" />
<polyline class="l" points="650.0,59.0 650.0,98.0" />
<polyline class="l" points="558.4,62.0 584.0,132.0" />
<polyline class="l" points="522.0,106.6 556.7,106.6" />
<polyline class="l" points="526.4,152.0 526.4,187.0" />
<polyline class="l" points="643.6,196.9 618.0,173.5" />
<polyline class="l" points="643.6,196.9 624.0,177.5" />
<polyline class="l" points="588.0,224.0 593.0,190.0" />
<polyline class="l" points="611.0,240.0 653.0,249.0" />
<polyline class="l" points="682.0,171.0 720.4,239.6" />
<polyline class="l" points="618.0,269.0 639.6,269.0" />
<polyline class="l" points="766.1,140.0 766.1,160.2" />
<polyline class="l" points="711.3,186.3 731.0,186.3" />
<polyline class="l" points="72.6,350.4 72.6,378.0" />
<polyline class="l" points="150.0,345.0 172.0,370.0" />
<polyline class="l" points="218.0,342.0 195.0,324.0 195.0,380.0" />
<polyline class="l" points="35.0,408.6 82.0,408.6" />
<polyline class="l" points="45.0,438.0 66.0,438.0" />
<polyline class="l" points="112.0,433.0 136.0,479.0 138.0,448.0" />
<polyline class="l" points="285.6,391.0 344.5,367.3" />
<polyline class="l" points="293.4,397.9 304.3,388.4 357.8,388.4" />
<polyline class="l" points="294.0,422.4 303.4,414.6" />
<polyline class="l" points="371.6,444.7 387.0,444.7" />
<polyline class="l" points="522.0,439.0 562.0,439.0" />
<polyline class="l" points="322.0,463.0 322.0,486.0" />
<polyline class="l" points="260.0,500.0 260.0,519.0 272.0,519.0" />
<polyline class="l" points="64.0,522.0 76.0,522.0" />
<polyline class="l" points="201.0,500.0 201.0,525.0" />
<polyline class="l" points="161.6,551.0 161.6,568.0" />
<polyline class="l" points="189.2,543.0 189.2,591.0" />
<polyline class="l" points="246.0,576.6 297.0,576.6" />
<polyline class="l" points="440.0,568.0 458.0,568.0" />
<polyline class="l" points="379.0,658.0 393.0,658.0" />
<polyline class="l" points="320.0,606.0 306.0,677.0 348.0,619.0" />
<polyline class="l" points="217.0,372.0 241.5,423.0 244.3,386.5" />
<line class="l" x1="588.0" y1="100.0" x2="594.7" y2="110.4" />
<polygon class="l" points="599.5,118.0 592.0,112.1 597.4,108.7"  style="fill:#000"/>
<line class="l" x1="566.0" y1="229.0" x2="579.3" y2="194.5" />
<polygon class="l" points="584.0,182.4 582.0,195.6 576.6,193.5"  style="fill:#000"/>
<polyline class="dd" points="610.3,70.5 610.3,246.0" />
<polyline class="dd" points="82.0,387.0 82.0,420.0" />
<polyline class="dd" points="82.0,440.0 82.0,494.0" />
<polyline class="dd" points="269.0,362.0 269.0,462.0 371.6,404.0 371.6,638.0" />
<text class="b" x="453.0" y="26.1">&quot;c&quot;</text>
<text class="b" x="595.0" y="24.6">6</text>
<text class="b" x="634.6" y="54.8">&quot;b&quot;</text>
<text class="b" x="550.4" y="59.8">5</text>
<text class="b" x="570.6" y="96.8">&quot;a&quot;</text>
<text class="b" x="510.5" y="113.8">3</text>
<text class="b" x="520.7" y="149">1</text>
<text class="b" x="628.6" y="210.1">&quot;g&quot;</text>
<text class="b" x="547.6" y="248">&quot;d&quot;</text>
<text class="b" x="576.6" y="238.1">&quot;p&quot;</text>
<text class="b" x="648.3" y="254">&quot;e&quot;</text>
<text class="b" x="705.6" y="252.8">&quot;a&quot;</text>
<text class="b" x="67.3" y="346.8">6</text>
<text class="b" x="132.6" y="341">&quot;b&quot;</text>
<text class="b" x="180.6" y="319">&quot;a&quot;</text>
<text class="b" x="336.6" y="369.1">&quot;p&quot;</text>
<text class="b" x="17.6" y="415">&quot;f&quot;</text>
<text class="b" x="32.7" y="446">4</text>
<text class="b" x="225.6" y="438.1">&quot;g&quot;</text>
<text class="b" x="120.6" y="494.1">&quot;g&quot;</text>
<text class="b" x="389.2" y="448.8">&quot;d&quot;</text>
<text class="b" x="563.5" y="447">8</text>
<text class="b" x="186.6" y="497">&quot;c&quot;</text>
<text class="b" x="234.3" y="583">2</text>
<text class="b" x="289.6" y="693.1">&quot;g&quot;</text>
<text class="r" x="744.4" y="138.6">M10x1,25x30</text>
<text class="r" x="730.7" y="192">M10x1,25x30</text>
<text class="r" x="641.5" y="273.7">M12x45</text>
<text class="r" x="359.7" y="394">6,4x24x2</text>
<text class="r" x="301.7" y="413">M6x20</text>
<text class="r" x="288.7" y="497">M12x130</text>
<text class="r" x="271.8" y="524">13x26x30</text>
<text class="r" x="6.7" y="529">M12x60</text>
<text class="r" x="460.7" y="574">M12x45</text>
<text class="r" x="146.7" y="584">M12</text>
<text class="r" x="175.8" y="606">13x26x30</text>
<text class="r" x="395.7" y="664">M12x35</text>
</svg>
</body></html>
